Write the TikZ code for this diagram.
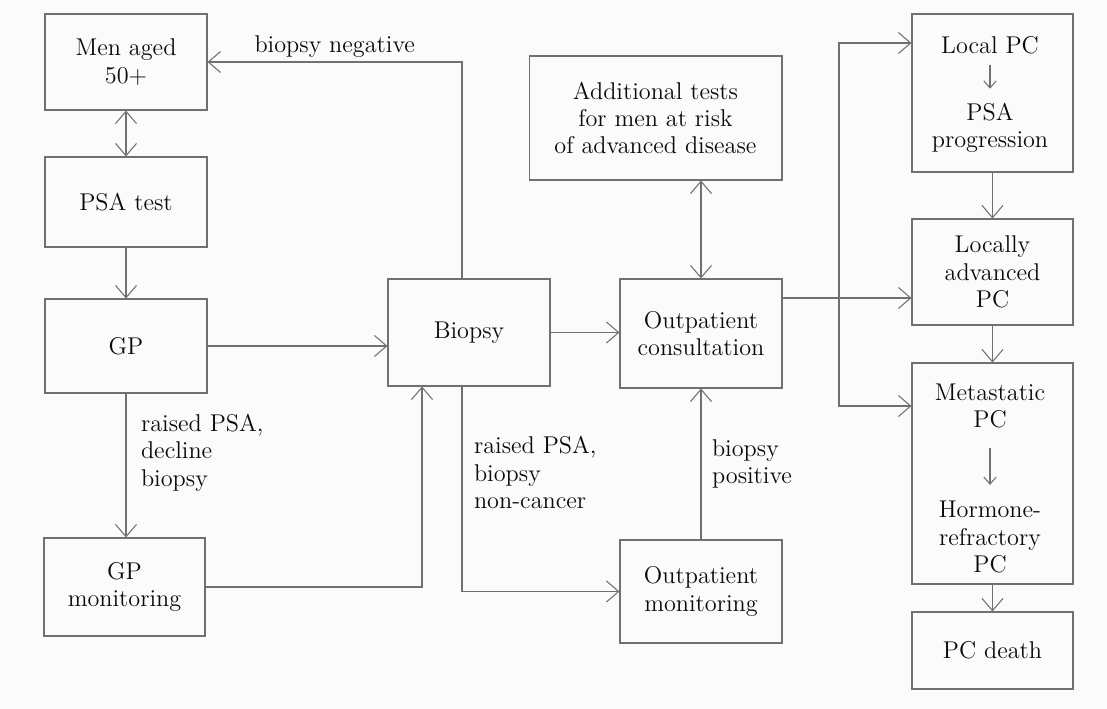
\documentclass[tikz,border=0pt]{standalone}
\usetikzlibrary{arrows.meta,positioning}

\definecolor{linegray}{HTML}{707070}
\definecolor{textgray}{HTML}{0A0A0A}
\definecolor{paper}{HTML}{FBFBFB}

\tikzset{
    >={Straight Barb[length=7pt,width=12pt]},
    box/.style={draw=linegray, line width=0.6pt, text=textgray, align=center,
        inner sep=0pt, minimum width=3.24cm, font=\fontsize{13.8}{15.6}\selectfont},
    txt/.style={text=textgray, align=center, inner sep=0pt, font=\fontsize{13.8}{15.6}\selectfont},
    lbl/.style={text=textgray, align=left, inner sep=2pt, font=\fontsize{13.8}{15.6}\selectfont},
    arr/.style={draw=linegray, line width=0.6pt, ->},
    smallarr/.style={draw=linegray, line width=0.6pt, -{Straight Barb[length=4pt,width=7pt]}},
}

\begin{document}
\begin{tikzpicture}[x=0.02cm, y=-0.02cm]
    \fill[paper] (0,0) rectangle (1107,709);
    \useasboundingbox (0,0) rectangle (1107,709);

    % Screening column
    \node[box, minimum height=1.92cm] (men) at (126,62) {Men aged\\50+};
    \node[box, minimum height=1.80cm] (psa) at (126,202) {PSA test};
    \node[box, minimum height=1.88cm] (gp) at (126,346) {GP};
    \node[box, minimum width=3.22cm, minimum height=1.96cm] (gpmon) at (124.5,587) {GP\\monitoring};

    % Biopsy and outpatient
    \node[box, minimum height=2.14cm] (biopsy) at (469,332.5) {Biopsy};
    \node[box, minimum width=5.06cm, minimum height=2.48cm] (addtests) at (655.5,118)
        {Additional tests\\for men at risk\\of advanced disease};
    \node[box, minimum height=2.18cm] (outcons) at (701,333.5) {Outpatient\\consultation};
    \node[box, minimum height=2.06cm] (outmon) at (701,591.5) {Outpatient\\monitoring};

    % Disease states
    \node[box, minimum width=3.22cm, minimum height=3.16cm] (localpc) at (992.5,93) {};
    \node[txt] (lpcA) at (990,45) {Local PC};
    \node[txt] (lpcB) at (990,128) {PSA\\progression};
    \node[box, minimum width=3.22cm, minimum height=2.12cm] (locadv) at (992.5,272) {Locally\\advanced\\PC};
    \node[box, minimum width=3.22cm, minimum height=4.42cm] (meta) at (992.5,473.5) {};
    \node[txt] (metA) at (990,406) {Metastatic\\PC};
    \node[txt] (metB) at (990,537) {Hormone-\\refractory\\PC};
    \node[box, minimum width=3.22cm, minimum height=1.54cm] (death) at (992.5,650.5) {PC death};

    % Screening arrows
    \draw[arr, <->] (men.south) -- (psa.north);
    \draw[arr] (psa.south) -- (gp.north);
    \draw[arr] (gp.south) -- node[lbl, anchor=west, xshift=0.22cm, pos=0.41] {raised PSA,\\decline\\biopsy} (gp.south |- gpmon.north);
    \draw[arr] (gp.east) -- (gp.east -| biopsy.west);
    \draw[arr] (gpmon.east) -| ([xshift=-0.94cm]biopsy.south);

    % Biopsy outcomes
    \draw[arr] ([xshift=-0.14cm]biopsy.north) |- node[lbl, above, pos=0.75] {biopsy negative} (men.east);
    \draw[arr] ([xshift=-0.14cm]biopsy.south) |- node[lbl, anchor=west, xshift=0.16cm, pos=0.21] {raised PSA,\\biopsy\\non-cancer} (outmon.west);
    \draw[arr] (biopsy.east) -- (biopsy.east -| outcons.west);
    \draw[arr, <->] (outcons.north |- addtests.south) -- (outcons.north);
    \draw[arr] (outmon.north) -- node[lbl, anchor=west, xshift=0.14cm, pos=0.5] {biopsy\\positive} (outcons.south);

    % Progression
    \coordinate (split) at (839,298);
    \draw[arr] (outcons.east |- split) -- (split -| locadv.west);
    \draw[arr] (split) |- ([yshift=1cm]localpc.west);
    \draw[arr] (split) |- ([yshift=1.35cm]meta.west);
    \draw[smallarr, shorten <=6pt, shorten >=8pt] (lpcA) -- (lpcB);
    \draw[smallarr, shorten <=11pt, shorten >=9pt] (metA) -- (metB);
    \draw[arr] (localpc.south) -- (locadv.north);
    \draw[arr] (locadv.south) -- (meta.north);
    \draw[arr] (meta.south) -- (death.north);
\end{tikzpicture}
\end{document}
